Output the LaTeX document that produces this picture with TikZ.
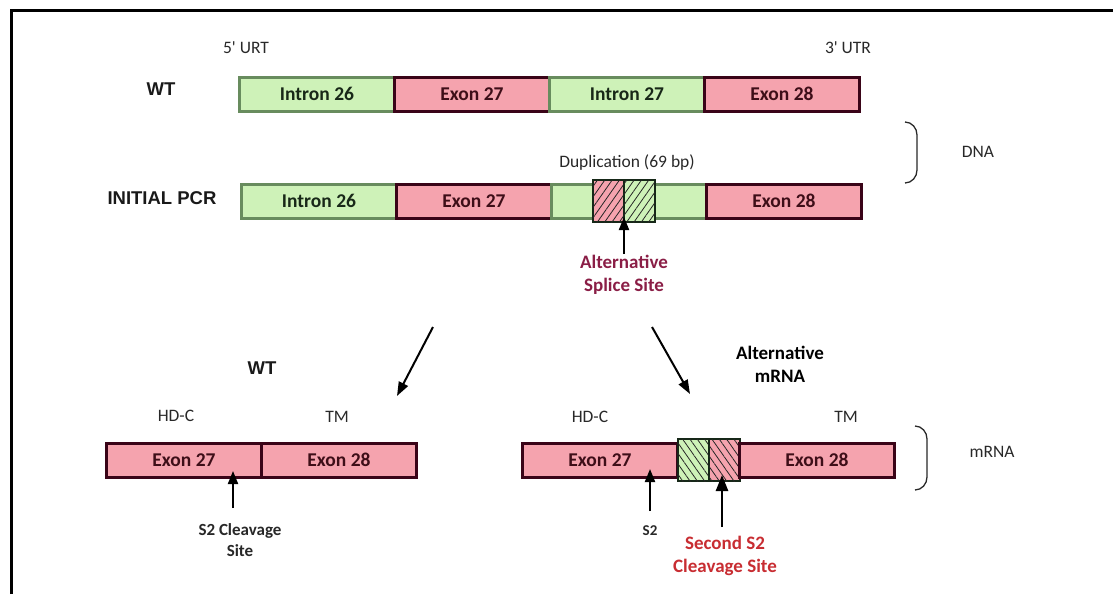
\documentclass[tikz,border=0pt]{standalone}
\usepackage{fontspec}
\setmainfont{Carlito}
\newfontfamily\arialbold{Liberation Sans}
\usetikzlibrary{arrows.meta,positioning,patterns.meta,calc}
\definecolor{intronFill}{RGB}{206,242,184}
\definecolor{intronLine}{RGB}{104,140,94}
\definecolor{intronText}{RGB}{24,40,24}
\definecolor{exonFill}{RGB}{245,163,174}
\definecolor{exonLine}{RGB}{58,4,24}
\definecolor{exonText}{RGB}{62,14,24}
\definecolor{dupLine}{RGB}{22,40,24}
\definecolor{labelGrey}{RGB}{40,40,40}
\definecolor{spliceRed}{RGB}{138,30,70}
\definecolor{cleaveRed}{RGB}{200,45,50}

\begin{document}
\begin{tikzpicture}[x=1pt, y=-1pt,
  intron/.style={draw=intronLine, fill=intronFill, line width=3pt, outer sep=0pt,
                 minimum width=155pt, minimum height=34pt, inner sep=0pt,
                 font=\fontsize{19.5}{21}\selectfont\bfseries, text=intronText},
  exon/.style={intron, draw=exonLine, fill=exonFill, text=exonText},
  hatchbase/.style={draw=dupLine, line width=2pt, outer sep=0pt, inner sep=0pt,
                 minimum width=31pt, minimum height=42pt},
  dupbox/.style={hatchbase,
                 postaction={pattern={Lines[angle=55, distance=6pt, line width=0.8pt]},
                             pattern color=black!85}},
  dupboxb/.style={hatchbase,
                 postaction={pattern={Lines[angle=-55, distance=6pt, line width=0.8pt]},
                             pattern color=black!85}},
  lbl/.style={font=\fontsize{17.5}{21}\selectfont, text=labelGrey, align=center},
  blbl/.style={font=\fontsize{19}{23}\selectfont\bfseries, align=center, inner sep=1pt},
  rowlbl/.style={font=\arialbold\fontsize{18.5}{22}\selectfont\bfseries, text=black!90},
  uparr/.style={-{Triangle[length=13pt, width=10pt]}, line width=2pt},
  branch/.style={-{Triangle[length=14pt, width=10pt]}, line width=2pt},
  brace/.style={line width=1.3pt, draw=labelGrey}
]
  \useasboundingbox (0,0) rectangle (1113,594);
  % frame
  \draw[line width=3pt] (11.5,594) -- (11.5,10.5) -- (1113,10.5);

  % WT DNA
  \node[intron]                        (wtI26) at (317,94) {Intron 26};
  \node[exon, right=0pt of wtI26]      (wtE27) {Exon 27};
  \node[intron, right=0pt of wtE27]    (wtI27) {Intron 27};
  \node[exon, right=0pt of wtI27]      (wtE28) {Exon 28};
  \node[lbl]    at (246,48)  (utr5) {5\textquotesingle{} URT};
  \node[lbl]    at (848,48)  (utr3) {3\textquotesingle{} UTR};
  \node[rowlbl] at (161,89)  (wtDna) {WT};

  % initial PCR
  \node[intron]                        (pcrI26) at (319,201) {Intron 26};
  \node[exon, right=0pt of pcrI26]     (pcrE27) {Exon 27};
  \node[intron, right=0pt of pcrE27]   (pcrI27) {};
  \node[exon, right=0pt of pcrI27]     (pcrE28) {Exon 28};
  \node[dupbox, fill=exonFill]                     (dupR) at (608.5,201) {};
  \node[dupbox, fill=intronFill, right=0pt of dupR] (dupG) {};
  \node[rowlbl] at (162,198) (pcrLbl) {INITIAL PCR};
  \node[lbl]    at (627,163) (dupLbl) {Duplication (69 bp)};
  \node[blbl, text=spliceRed] at (624,275) (altLbl) {Alternative\\Splice Site};
  \draw[uparr] (altLbl.north) -- ([yshift=5pt]altLbl.north |- dupR.south);

  % DNA brace
  \draw[brace] (905,122) to[out=0, in=90] (917,135) -- (917,170) to[out=-90, in=0] (905,183);
  \node[lbl] at (978,152) (dnaLbl) {DNA};

  % branches
  \coordinate (brLs) at (433,327);
  \coordinate (brLe) at (397,396);
  \coordinate (brRs) at (652,327);
  \coordinate (brRe) at (690,394);
  \draw[branch] (brLs) -- (brLe);
  \draw[branch] (brRs) -- (brRe);
  \node[rowlbl] at (262,368) (wtRna) {WT};
  \node[blbl]   at (780,364) (altRna) {Alternative\\mRNA};

  % WT mRNA
  \node[exon]                          (mE27) at (184,460) {Exon 27};
  \node[exon, right=0pt of mE27]       (mE28) {Exon 28};
  \node[lbl] at (176,416) (hdcL) {HD-C};
  \node[lbl] at (337,417) (tmL)  {TM};
  \coordinate (s2L) at (233,508);
  \draw[uparr] (s2L) -- ([yshift=6pt]s2L |- mE27.south);
  \node[blbl, font=\fontsize{17}{21}\selectfont\bfseries, text=labelGrey] at (240,540) (s2LLbl) {S2 Cleavage\\Site};

  % alternative mRNA
  \node[exon]                                         (aE27) at (600,460) {Exon 27};
  \node[dupboxb, fill=intronFill, right=0pt of aE27]  (hG)  {};
  \node[dupboxb, fill=exonFill, right=0pt of hG]      (hR)  {};
  \node[exon, right=0pt of hR]                        (aE28) {Exon 28};
  \node[lbl] at (590,417) (hdcR) {HD-C};
  \node[lbl] at (846,417) (tmR)  {TM};
  \coordinate (s2R) at (650,511);
  \draw[uparr] (s2R) -- ([yshift=8pt]s2R |- aE27.south);
  \node[blbl, font=\fontsize{15}{19}\selectfont\bfseries, text=labelGrey] at (650,531) (s2RLbl) {S2};
  \coordinate (s2Sec) at (722,527);
  \draw[uparr, line width=2.5pt, -{Triangle[length=16pt, width=12pt]}] (s2Sec) -- ([yshift=6pt]s2Sec |- hR.south);
  \node[blbl, text=cleaveRed] at (725,556) (secLbl) {Second S2\\Cleavage Site};

  % mRNA brace
  \draw[brace] (915,426) to[out=0, in=90] (927,439) -- (927,477) to[out=-90, in=0] (915,490);
  \node[lbl] at (992,452) (mrnaLbl) {mRNA};
\end{tikzpicture}
\end{document}
